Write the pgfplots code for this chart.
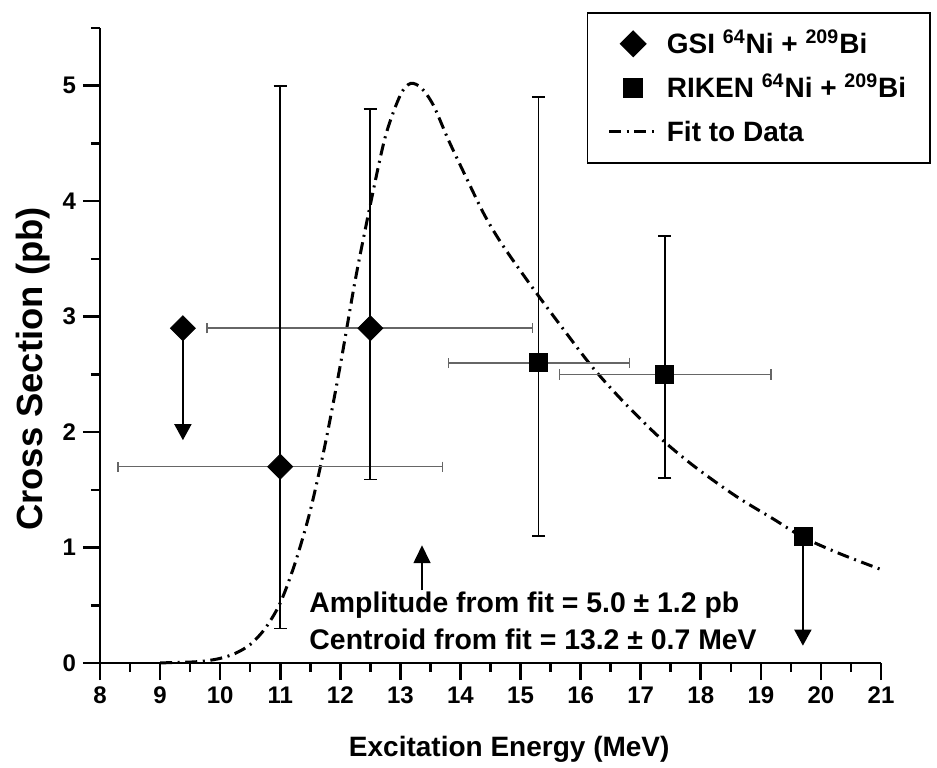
\documentclass[border=0pt]{standalone}
\usepackage{fontspec}
\setmainfont{Liberation Sans}
\usepackage{pgfplots}
\pgfplotsset{compat=1.18}
\usetikzlibrary{arrows.meta}
\begin{document}
\begin{tikzpicture}
\useasboundingbox (-50pt,-52pt) rectangle (418.5pt,331.5pt);
\begin{axis}[
  at={(0pt,0pt)}, anchor=south west,
  scale only axis, width=390.5pt, height=317.5pt,
  xmin=8, xmax=21, ymin=0, ymax=5.5,
  axis x line*=bottom, axis y line*=left,
  axis line style={line width=1.3pt},
  xtick={8,...,21}, minor xtick={8.5,9.5,...,20.5},
  ytick={0,...,5}, minor ytick={0.5,1.5,...,5.5},
  tick align=outside,
  major tick length=8.5pt, minor tick length=4.5pt,
  tick style={line width=1.3pt, black},
  /pgf/number format/assume math mode=true,
  ticklabel style={font=\bfseries\fontsize{12}{14}\selectfont},
  xlabel={Excitation Energy (MeV)}, ylabel={Cross Section (pb)},
  xlabel style={font=\bfseries\fontsize{14}{16}\selectfont, at={(axis description cs:0.524,-0.148)}, anchor=base},
  ylabel style={font=\bfseries\fontsize{18.2}{20}\selectfont, at={(axis description cs:-0.073,0.463)}, anchor=base},
  clip=false,
  legend style={at={(axis description cs:1.064,1.0252)}, anchor=north east,
    draw=black, line width=0.8pt, inner xsep=10pt, inner ysep=6.5pt,
    font=\bfseries\fontsize{14}{16}\selectfont, row sep=4pt, column sep=2pt,
    nodes={inner xsep=2pt, inner ysep=2pt, text height=12pt, text depth=2pt},
    cells={anchor=west}},
  legend image code/.code={\draw[mark repeat=2,mark phase=2,#1] plot coordinates {(0cm,0cm) (0.425cm,0cm) (0.85cm,0cm)};},
]
% fit curve
\addplot[forget plot, black, line width=1.5pt, dash pattern=on 6pt off 2.8pt on 1pt off 2.8pt, smooth] coordinates {
(9.0,0.001) (9.5,0.008) (9.75,0.018) (10.0,0.04) (10.25,0.083) (10.5,0.16) (10.75,0.30)
(11.0,0.52) (11.25,0.87) (11.5,1.32) (11.75,1.90) (12.0,2.58) (12.25,3.32) (12.5,3.97)
(12.75,4.56) (13.0,4.92) (13.17,5.02) (13.35,4.98) (13.55,4.83) (13.8,4.53) (14.1,4.20)
(14.4,3.88) (14.7,3.62) (15.2,3.25) (15.7,2.90) (16.2,2.56) (16.7,2.27) (17.3,1.96)
(17.9,1.70) (18.6,1.44) (19.2,1.25) (19.7,1.09) (20.3,0.95) (21.0,0.81)
};
% horizontal error bars
\addplot[forget plot, only marks, mark=none, error bars/.cd, x dir=both, x explicit,
  error bar style={line width=0.7pt, black!60},
  error mark options={rotate=90, mark size=2.6pt, line width=0.7pt, black!60}] coordinates {
(11.0,1.7) += (2.7,0) -= (2.7,0)
(12.5,2.9) += (2.7,0) -= (2.72,0)
(15.3,2.6) += (1.51,0) -= (1.5,0)
(17.4,2.5) += (1.77,0) -= (1.75,0)
};
% vertical error bars
\addplot[forget plot, only marks, mark=none, error bars/.cd, y dir=both, y explicit,
  error bar style={line width=0.85pt, black},
  error mark options={rotate=90, mark size=3.3pt, line width=0.85pt, black}] coordinates {
(11.0,1.7) += (0,3.3) -= (0,1.4)
(12.5,2.9) += (0,1.9) -= (0,1.31)
(15.3,2.6) += (0,2.3) -= (0,1.5)
(17.4,2.5) += (0,1.2) -= (0,0.9)
};
% arrows
\addplot[forget plot, black, line width=0.85pt, -{Triangle[width=8.5pt,length=8pt]}] coordinates {(9.38,2.9) (9.38,1.93)};
\addplot[forget plot, black, line width=0.85pt, -{Triangle[width=8.5pt,length=8pt]}] coordinates {(19.7,1.1) (19.7,0.15)};
\addplot[forget plot, black, line width=0.85pt, -{Triangle[width=8.5pt,length=9pt]}] coordinates {(13.36,0.63) (13.36,1.02)};
% markers
\addplot[only marks, mark=square*, mark size=4.4pt, mark options={rotate=45, fill=black, draw=black}] coordinates {(9.38,2.9) (11.0,1.7) (12.5,2.9)};
\addlegendentry{GSI \textsuperscript{64}Ni + \textsuperscript{209}Bi}
\addplot[only marks, mark=square*, mark size=4.5pt, mark options={fill=black, draw=black}] coordinates {(15.3,2.6) (17.4,2.5) (19.7,1.1)};
\addlegendentry{RIKEN \textsuperscript{64}Ni + \textsuperscript{209}Bi}
\addlegendimage{black, line width=1.5pt, dash pattern=on 6pt off 2.8pt on 1pt off 2.8pt}
\addlegendentry{Fit to Data}
% annotations
\node[anchor=base west, inner sep=0pt, font=\bfseries\fontsize{14.2}{16}\selectfont] at (axis cs:11.48,0.436) {Amplitude from fit = 5.0 ± 1.2 pb};
\node[anchor=base west, inner sep=0pt, font=\bfseries\fontsize{14.2}{16}\selectfont] at (axis cs:11.48,0.113) {Centroid from fit = 13.2 ± 0.7 MeV};
\end{axis}
\end{tikzpicture}
\end{document}
